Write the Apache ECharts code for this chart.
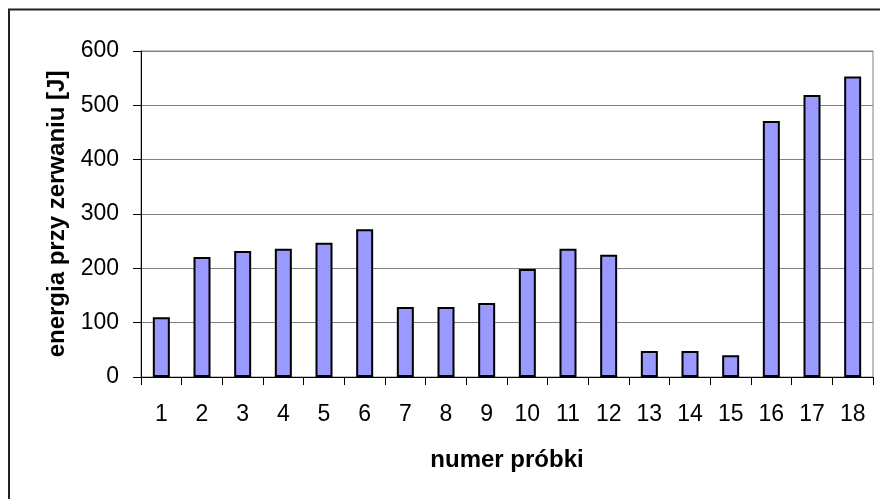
<!DOCTYPE html>
<html>
<head>
<meta charset="utf-8">
<script src="https://cdn.jsdelivr.net/npm/echarts@6/dist/echarts.min.js"></script>
<style>html,body{margin:0;padding:0;background:#fff;}#c{width:880px;height:499px;}</style>
</head>
<body>
<div id="c"></div>
<script>
var categories = ['1','2','3','4','5','6','7','8','9','10','11','12','13','14','15','16','17','18'];
var energy = [110, 221, 232, 236, 247, 272, 129, 129, 136, 199, 236, 225, 48, 48, 40, 471, 519, 553];
var yTicks = [0, 100, 200, 300, 400, 500, 600];

var chart = echarts.init(document.getElementById('c'), null, {renderer: 'canvas'});
var font = 'Liberation Sans, Arial, sans-serif';
chart.setOption({
  animation: false,
  backgroundColor: '#fff',
  grid: {left: 141, right: 7, top: 51, bottom: 122, show: true, borderColor: '#808080', borderWidth: 1, containLabel: false},
  graphic: [{
    type: 'rect', shape: {x: 9, y: 9.5, width: 1000, height: 1000},
    style: {fill: 'none', stroke: '#222', lineWidth: 2}, silent: true
  }],
  xAxis: {
    type: 'category', data: categories, boundaryGap: true,
    name: 'numer próbki', nameLocation: 'middle', nameGap: 71,
    nameTextStyle: {fontFamily: font, fontSize: 24, fontWeight: 'bold', color: '#000'},
    axisLine: {lineStyle: {color: '#000', width: 1}},
    axisTick: {show: true, length: 8, lineStyle: {color: '#000'}},
    axisLabel: {fontFamily: font, fontSize: 23, color: '#000', margin: 26, interval: 0},
    splitLine: {show: false}
  },
  yAxis: {
    type: 'value', min: yTicks[0], max: yTicks[yTicks.length - 1], interval: 100,
    name: 'energia przy zerwaniu [J]', nameLocation: 'middle', nameGap: 72, nameRotate: 90,
    nameTextStyle: {fontFamily: font, fontSize: 24, fontWeight: 'bold', color: '#000'},
    axisLine: {show: true, lineStyle: {color: '#000', width: 1}},
    axisTick: {show: true, length: 8, lineStyle: {color: '#000'}},
    axisLabel: {fontFamily: font, fontSize: 23, color: '#000', margin: 22},
    splitLine: {show: true, lineStyle: {color: '#808080', width: 1}}
  },
  series: [{
    type: 'bar', data: energy, barWidth: 17,
    itemStyle: {color: '#9999FF', borderColor: '#000', borderWidth: 2}
  }]
});
</script>
</body>
</html>
